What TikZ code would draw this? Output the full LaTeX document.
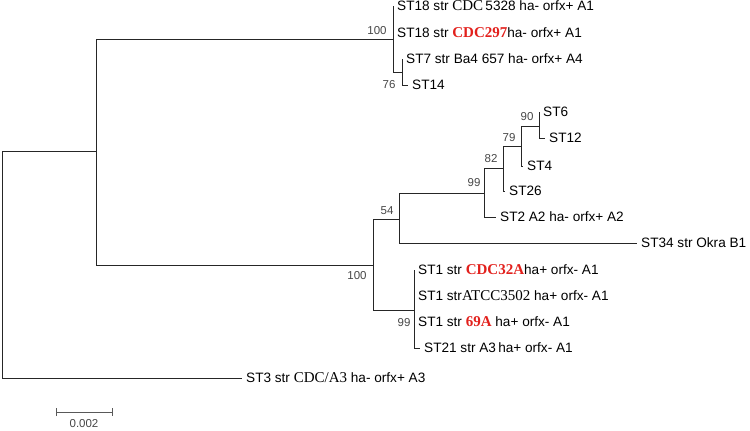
\documentclass[tikz,border=0pt]{standalone}
\usepackage{fontspec}
\setmainfont{Liberation Sans}
\newfontfamily\tmsfont{Liberation Serif}
\usetikzlibrary{arrows.meta}
\definecolor{strred}{RGB}{226,32,28}
\newcommand\srf[1]{{\tmsfont\fontsize{15}{15}\selectfont #1}}
\newcommand\hlstr[1]{{\tmsfont\bfseries\fontsize{15}{15}\selectfont\color{strred}#1}}

\begin{document}
\begin{tikzpicture}[x=1pt,y=-1pt,
  leaf/.style={anchor=west,inner sep=4pt,font=\fontsize{13.6}{14}\selectfont,text height=9.5pt,text depth=0pt},
  boot/.style={inner sep=0pt,font=\fontsize{11.5}{12}\selectfont,text=black!72},
  branch/.style={line width=1pt,draw=black!85}]
\useasboundingbox (0,0) rectangle (750,431);
\coordinate (root) at (2,264);
\coordinate (nA) at (96,151);
\coordinate (nT) at (393,39);
\coordinate (n76) at (402,72);
\coordinate (nB) at (373,265);
\coordinate (n54) at (399,219);
\coordinate (n99a) at (484,193);
\coordinate (n82) at (503,168);
\coordinate (n79) at (521,146);
\coordinate (n90) at (539,126);
\coordinate (n99b) at (414,310);
\node[leaf] (st18a) at (393,6) {ST18 str \srf{CDC}\,5328 ha- orfx+ A1};
\node[leaf] (st18b) at (393,33) {ST18 str \hlstr{CDC297}ha- orfx+ A1};
\node[leaf] (st7) at (402,59) {ST7 str Ba4 657 ha- orfx+ A4};
\node[leaf] (st14) at (408,85) {ST14};
\node[leaf] (st6) at (539,112) {ST6};
\node[leaf] (st12) at (545,138) {ST12};
\node[leaf] (st4) at (523,166) {ST4};
\node[leaf] (st26) at (505,191) {ST26};
\node[leaf] (st2) at (496,217) {ST2 A2 ha- orfx+ A2};
\node[leaf] (st34) at (637,243) {ST34 str Okra B1};
\node[leaf] (st1a) at (414,270) {ST1 str \hlstr{CDC32A}ha+ orfx- A1};
\node[leaf] (st1b) at (414,296) {ST1 str\srf{ATCC3502} ha+ orfx- A1};
\node[leaf] (st1c) at (414,322) {ST1 str \hlstr{69A} ha+ orfx- A1};
\node[leaf] (st21) at (420,348) {ST21 str A3\,ha+ orfx- A1};
\node[leaf] (st3) at (242,378) {ST3 str \srf{CDC/A3} ha- orfx+ A3};
\foreach \from/\to in {root/nA,nA/nT,nA/nB,nT/n76,nB/n54,nB/n99b,n54/n99a,n99a/n82,n82/n79,n79/n90}
  \draw[branch] (\from) |- (\to);
\foreach \from/\to in {root/st3,nT/st18a,nT/st18b,n76/st7,n76/st14,n90/st6,n90/st12,n79/st4,n82/st26,
  n99a/st2,n54/st34,n99b/st1a,n99b/st1b,n99b/st1c,n99b/st21}
  \draw[branch] (\from) |- (\to.west);
\node[boot] (bT) at (377,31) {100};
\node[boot] (b76) at (389,85) {76};
\node[boot] (bB) at (357,276) {100};
\node[boot] (b54) at (387,211) {54};
\node[boot] (b99a) at (474,183) {99};
\node[boot] (b82) at (491,159) {82};
\node[boot] (b79) at (509,138) {79};
\node[boot] (b90) at (527,117) {90};
\node[boot] (b99b) at (404,323) {99};
\coordinate (sbl) at (56,412);
\coordinate (sbr) at (113,412);
\draw[branch,draw=black!65,{Bar[width=8pt]}-{Bar[width=8pt]}] (sbl) -- (sbr);
\node[boot] (sblab) at (84,424) {0.002};
\end{tikzpicture}
\end{document}
